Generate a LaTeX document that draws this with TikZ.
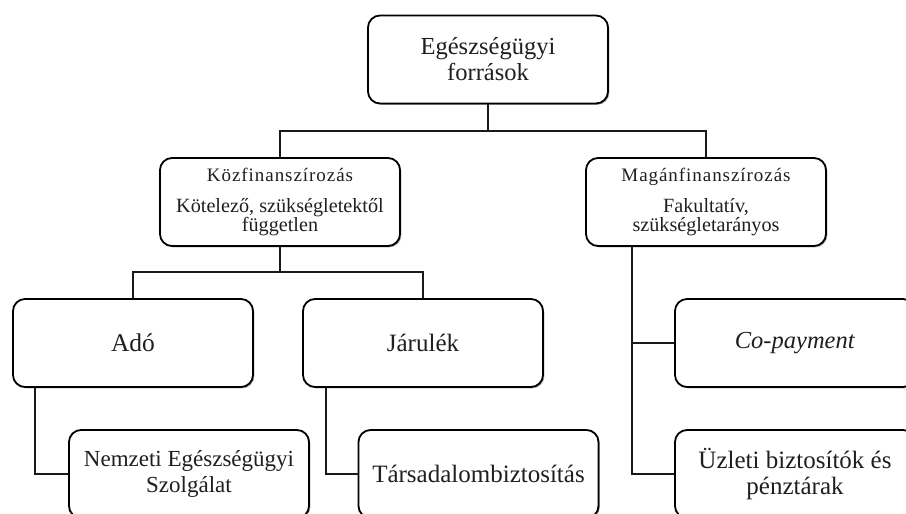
\documentclass[tikz,border=0pt]{standalone}
\usepackage{fontspec}
\setmainfont{Liberation Serif}
\usetikzlibrary{shadows}
\newcommand{\spacedhead}[1]{{\fontsize{19}{19}\selectfont\addfontfeature{LetterSpace=5}#1}}
\tikzset{
  box/.style={draw=black, line width=1.8pt, rounded corners=12pt, fill=white,
    minimum width=240pt, minimum height=88pt, align=center, inner sep=2pt,
    text=black!88,
    drop shadow={shadow xshift=1.3pt, shadow yshift=-1.3pt, opacity=0.35, fill=black}},
  fs/.style={font=\fontsize{#1}{26}\selectfont},
  midfont/.style={font=\fontsize{20.2}{19}\selectfont},
  conn/.style={draw=black!90, line width=1.6pt}
}
\begin{document}
\begin{tikzpicture}[x=1pt, y=-1pt]
\useasboundingbox (0,0) rectangle (906,514);
\clip (0,0) rectangle (906,514);
\fill[white] (0,0) rectangle (906,514);
\coordinate (rj) at (488,131);
\coordinate (kj) at (280,272);
\node[box, fs=24.5] (root) at (488,59.5) {Egészségügyi\\források};
\node[box, midfont] (kozf) at (280,202) {\spacedhead{Közfinanszírozás}\\[12pt]Kötelező, szükségletektől\\független};
\node[box, midfont] (magan) at (706,202) {\spacedhead{Magánfinanszírozás}\\[12pt]Fakultatív,\\szükségletarányos};
\node[box, fs=25.5] (ado) at (133,343) {Adó};
\node[box, fs=25] (jarulek) at (423,343) {Járulék};
\node[box, fs=24.5] (copay) at (795,343) {\textit{Co-payment}};
\node[box, fs=23] (nemzeti) at (189,474) {Nemzeti Egészségügyi\\Szolgálat};
\node[box, fs=25] (tarsa) at (478.5,474) {Társadalombiztosítás};
\node[box, fs=25] (uzleti) at (795,474) {Üzleti biztosítók és\\pénztárak};
\draw[conn] (root.south) -- (rj);
\draw[conn] (rj) -| (kozf.north);
\draw[conn] (rj) -| (magan.north);
\draw[conn] (kozf.south) -- (kj);
\draw[conn] (kj) -| (ado.north);
\draw[conn] (kj) -| (jarulek.north);
\draw[conn] ([xshift=-98pt]ado.south) |- (nemzeti.west);
\draw[conn] ([xshift=-97pt]jarulek.south) |- (tarsa.west);
\draw[conn] ([xshift=-74pt]magan.south) |- (uzleti.west);
\draw[conn] ([xshift=-74pt]magan.south |- copay.west) -- (copay.west);
\end{tikzpicture}
\end{document}
